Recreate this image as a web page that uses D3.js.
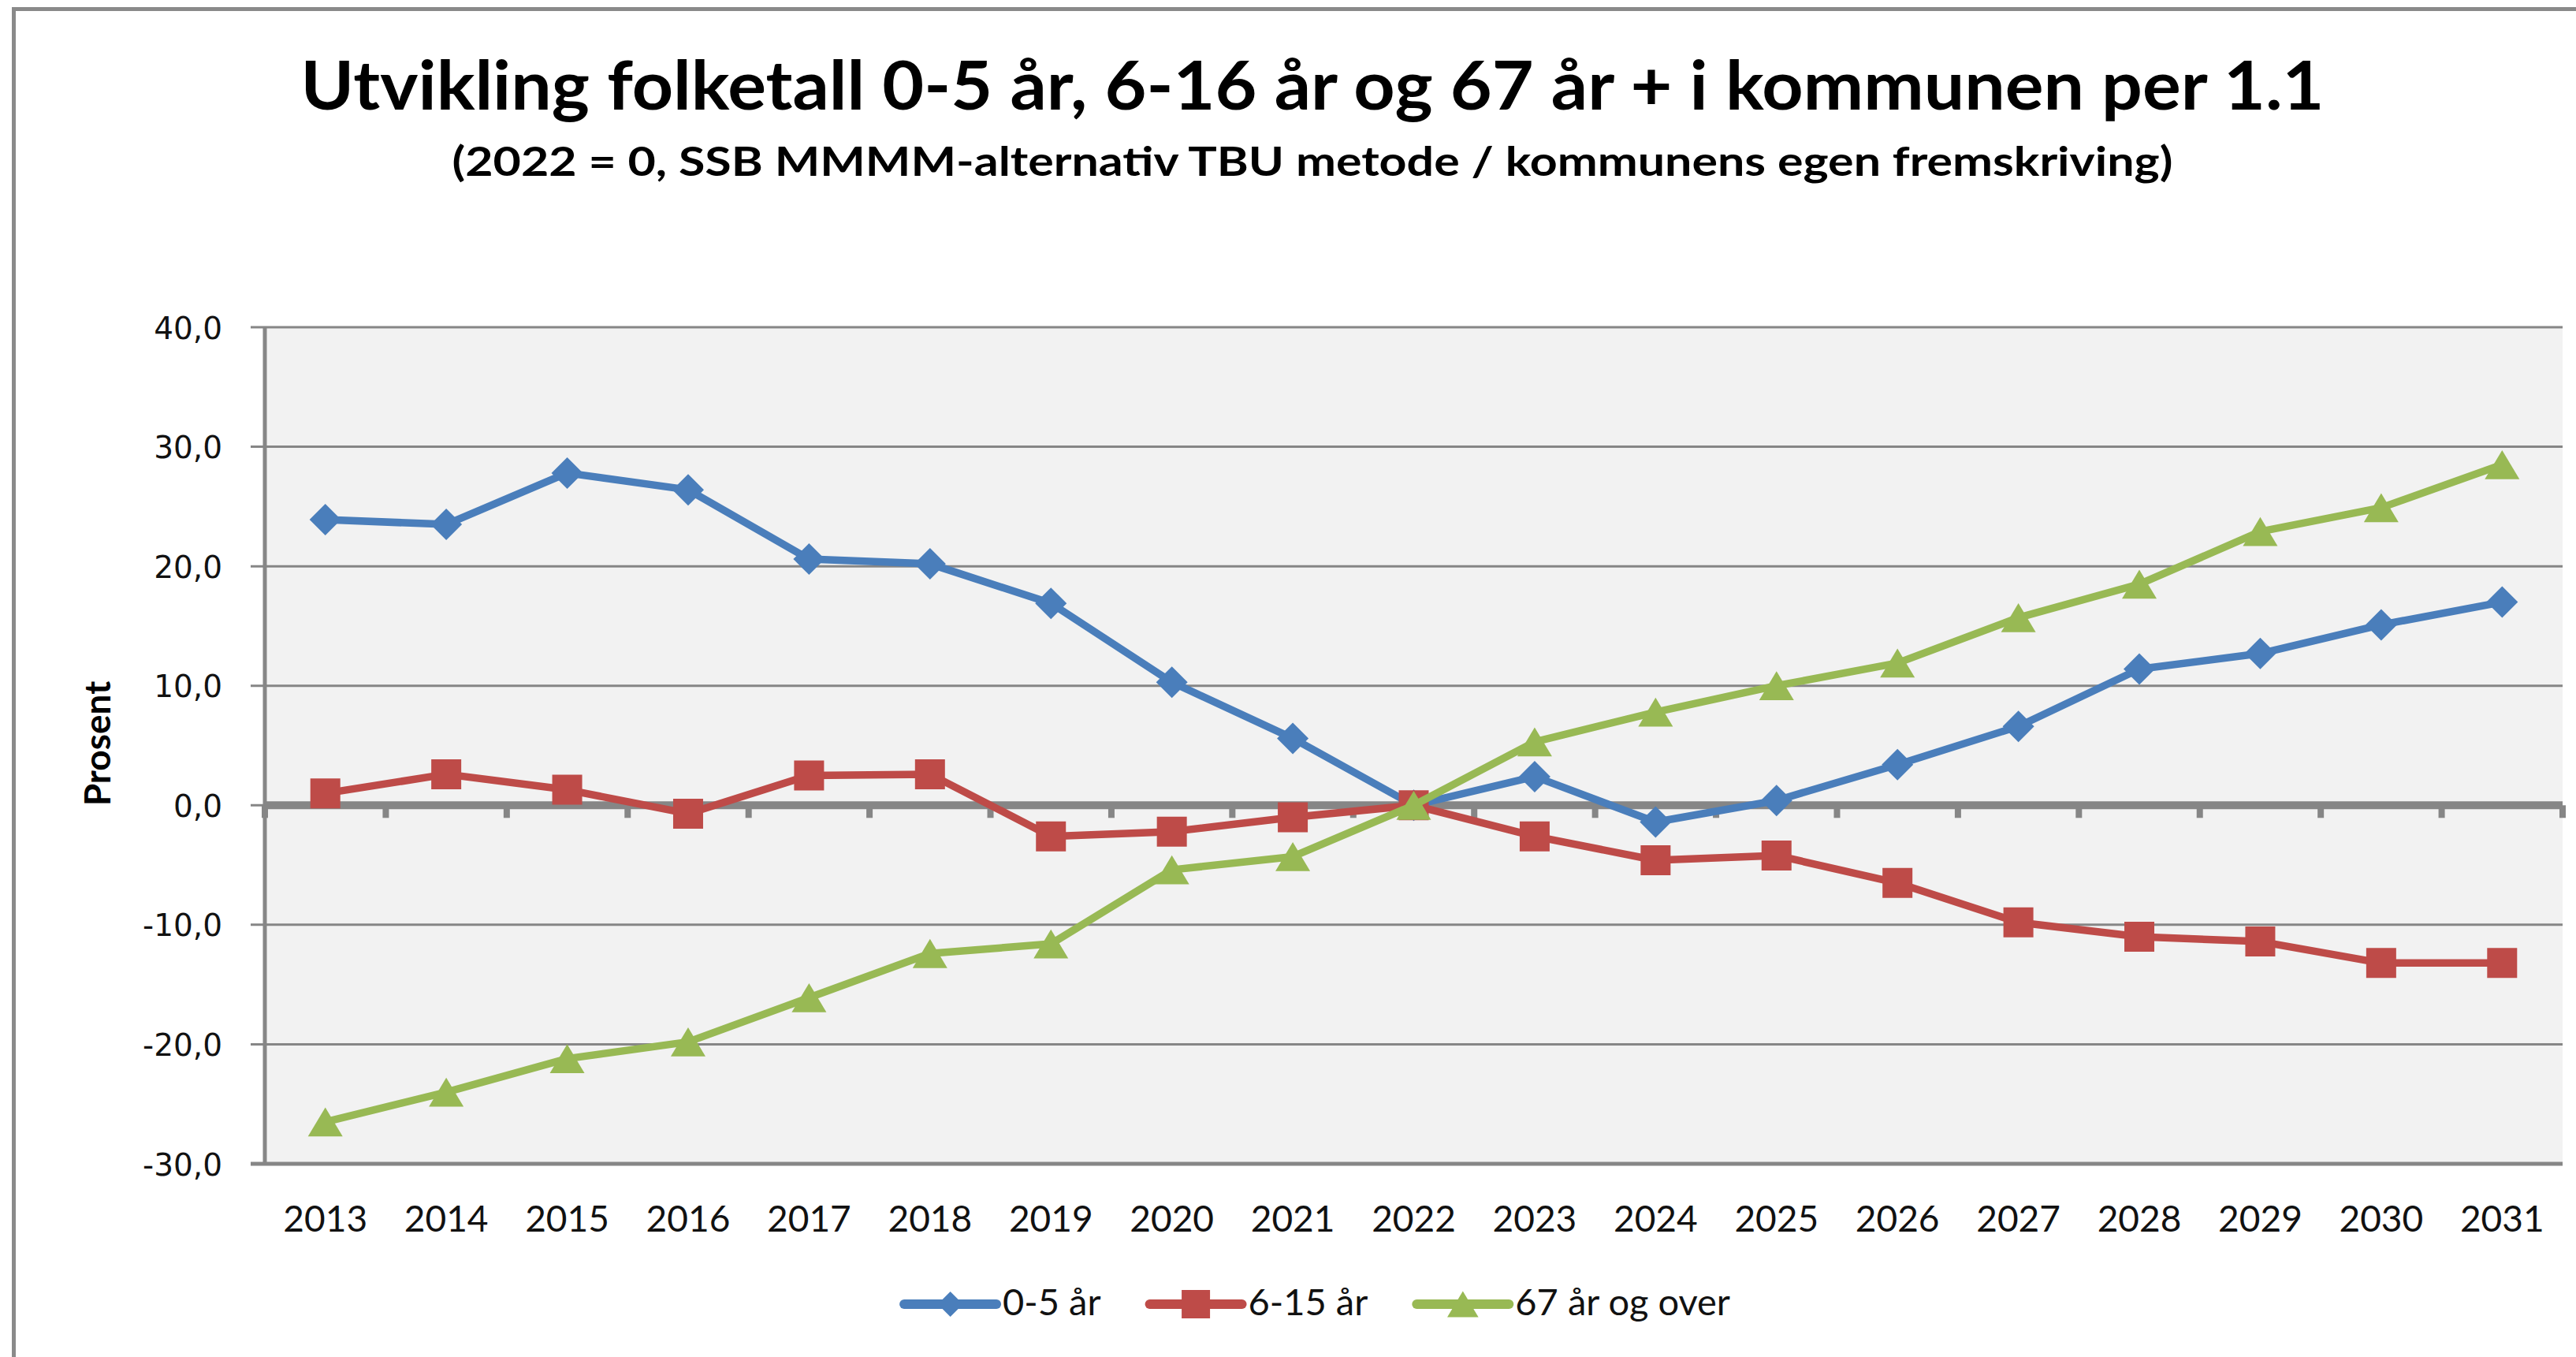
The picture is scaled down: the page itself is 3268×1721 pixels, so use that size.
<!DOCTYPE html>
<html>
<head>
<meta charset="utf-8">
<script src="https://cdn.jsdelivr.net/npm/d3@7/dist/d3.min.js"></script>
<style>
  html, body { margin: 0; padding: 0; background: #ffffff; }
  svg { display: block; }
</style>
</head>
<body>
<svg id="chart" width="3268" height="1721"></svg>
<script>
// ---------------- data ----------------
const years = [2013, 2014, 2015, 2016, 2017, 2018, 2019, 2020, 2021, 2022,
               2023, 2024, 2025, 2026, 2027, 2028, 2029, 2030, 2031];
const yTicks = [40, 30, 20, 10, 0, -10, -20, -30];
const seriesNames = ["0-5 år", "6-15 år", "67 år og over"];
const age0to5   = [23.9, 23.5, 27.8, 26.4, 20.6, 20.2, 16.9, 10.3, 5.6, 0.0,
                   2.4, -1.4, 0.4, 3.4, 6.6, 11.4, 12.7, 15.1, 17.0];
const age6to15  = [1.0, 2.6, 1.3, -0.7, 2.5, 2.6, -2.6, -2.2, -1.0, 0.0,
                   -2.6, -4.6, -4.2, -6.5, -9.8, -11.0, -11.4, -13.2, -13.2];
const age67plus = [-26.5, -24.0, -21.2, -19.8, -16.1, -12.4, -11.6, -5.4, -4.3, 0.0,
                   5.3, 7.8, 10.0, 11.9, 15.7, 18.5, 22.9, 24.9, 28.5];
const titleText = "Utvikling folketall 0-5 år, 6-16 år og 67 år + i kommunen per 1.1";
const subtitleText = "(2022 = 0, SSB MMMM-alternativ TBU metode / kommunens egen fremskriving)";
const yAxisTitle = "Prosent";

// ---------------- setup ----------------
const svg = d3.select("#chart");
const plot = { left: 336, right: 3251, top: 415, bottom: 1476 };
const gridColor = "#868686";
const colors = ["#4a7ebb", "#be4b48", "#98b954"];
const markerTypes = ["diamond", "square", "triangle"];
const seriesValues = [age0to5, age6to15, age67plus];

const x = d3.scaleBand().domain(years).range([plot.left, plot.right]).padding(0);
const y = d3.scaleLinear().domain([-30, 40]).range([plot.bottom, plot.top]);
const bw = x.bandwidth();
const locale = d3.formatLocale({ decimal: ",", thousands: " ", grouping: [3], currency: ["", ""], minus: "-" });
const fmt = locale.format(".1f");

// chart border (top + left visible)
svg.append("line").attr("x1", 15).attr("x2", 3268).attr("y1", 11.5).attr("y2", 11.5)
  .attr("stroke", "#8a8a8a").attr("stroke-width", 5);
svg.append("line").attr("x1", 17.5).attr("x2", 17.5).attr("y1", 9).attr("y2", 1721)
  .attr("stroke", "#8a8a8a").attr("stroke-width", 5);

// title
svg.append("text").attr("x", 1665).attr("y", 139)
  .attr("text-anchor", "middle")
  .attr("font-family", "Lato, 'Open Sans', sans-serif")
  .attr("font-weight", 700).attr("font-size", 86)
  .attr("textLength", 2567).attr("lengthAdjust", "spacingAndGlyphs")
  .attr("fill", "#000").text(titleText);
svg.append("text").attr("x", 1665).attr("y", 223)
  .attr("text-anchor", "middle")
  .attr("font-family", "Lato, 'Open Sans', sans-serif")
  .attr("font-weight", 700).attr("font-size", 51)
  .attr("textLength", 2183).attr("lengthAdjust", "spacingAndGlyphs")
  .attr("fill", "#000").text(subtitleText);

// plot background
svg.append("rect").attr("x", plot.left).attr("y", plot.top)
  .attr("width", plot.right - plot.left).attr("height", plot.bottom - plot.top)
  .attr("fill", "#f2f2f2");

// gridlines (with left tick stubs)
svg.append("g").selectAll("line").data(yTicks).join("line")
  .attr("x1", plot.left - 18).attr("x2", plot.right)
  .attr("y1", d => y(d)).attr("y2", d => y(d))
  .attr("stroke", gridColor).attr("stroke-width", d => d === -30 ? 5 : 3);

// y tick labels via axis
const gyl = svg.append("g").attr("transform", `translate(${plot.left - 54},0)`)
  .call(d3.axisLeft(y).tickValues(yTicks).tickFormat(fmt).tickSize(0).tickPadding(0));
gyl.select(".domain").remove();
gyl.selectAll("text")
  .attr("font-family", "'DejaVu Sans', Verdana, sans-serif")
  .attr("font-size", 39).attr("fill", "#111").attr("dy", "0.36em");

// y axis line
svg.append("line").attr("x1", plot.left).attr("x2", plot.left)
  .attr("y1", plot.top).attr("y2", plot.bottom)
  .attr("stroke", gridColor).attr("stroke-width", 5);

// zero (category) axis with ticks at band boundaries
const boundaries = years.map(d => x(d)).concat([x(years[years.length - 1]) + bw]);
svg.append("g").selectAll("line").data(boundaries).join("line")
  .attr("x1", d => d).attr("x2", d => d)
  .attr("y1", y(0)).attr("y2", y(0) + 16)
  .attr("stroke", gridColor).attr("stroke-width", 8);
svg.append("line").attr("x1", plot.left).attr("x2", plot.right)
  .attr("y1", y(0)).attr("y2", y(0))
  .attr("stroke", gridColor).attr("stroke-width", 10);

// x labels
const gx = svg.append("g").attr("transform", `translate(0,${plot.bottom})`)
  .call(d3.axisBottom(x).tickSize(0).tickPadding(0));
gx.select(".domain").remove();
gx.selectAll("text")
  .attr("font-family", "Lato, 'Open Sans', sans-serif")
  .attr("font-size", 46).attr("fill", "#111")
  .attr("y", 86).attr("dy", 0);

// marker shapes
function markerPath(type, s) {
  if (type === "diamond") {
    const h = s / 2;
    return `M0,${-h}L${h},0L0,${h}L${-h},0Z`;
  }
  if (type === "square") {
    const h = s / 2;
    return `M${-h},${-h}H${h}V${h}H${-h}Z`;
  }
  const w = s * 0.55, hh = s * 0.46;
  return `M0,${-hh}L${w},${hh}L${-w},${hh}Z`;
}
const markerSizes = [40, 38, 40];

// series
const line = d3.line().x((d, i) => x(years[i]) + bw / 2).y(d => y(d));
seriesValues.forEach((vals, si) => {
  const g = svg.append("g");
  g.append("path").datum(vals).attr("d", line)
    .attr("fill", "none").attr("stroke", colors[si]).attr("stroke-width", 9.5)
    .attr("stroke-linejoin", "round").attr("stroke-linecap", "round");
  g.selectAll("path.m").data(vals).join("path").attr("class", "m")
    .attr("transform", (d, i) => `translate(${x(years[i]) + bw / 2},${y(d)})`)
    .attr("d", markerPath(markerTypes[si], markerSizes[si]))
    .attr("fill", colors[si]);
});

// y axis title
svg.append("text").attr("transform", "translate(140,943) rotate(-90)")
  .attr("text-anchor", "middle")
  .attr("font-family", "Lato, 'Open Sans', sans-serif")
  .attr("font-weight", 700).attr("font-size", 46).attr("fill", "#000")
  .text(yAxisTitle);

// legend
const legend = svg.append("g");
const legLine = 117, legTextGap = 8, legItemGap = 62, legY = 1654;
let cx = 0;
const items = seriesNames.map((name, i) => {
  const g = legend.append("g");
  g.append("line").attr("x1", 0).attr("x2", legLine).attr("y1", 0).attr("y2", 0)
    .attr("stroke", colors[i]).attr("stroke-width", 12).attr("stroke-linecap", "round");
  g.append("path").attr("transform", `translate(${legLine / 2},0)`)
    .attr("d", markerPath(markerTypes[i], i === 0 ? 32 : 36)).attr("fill", colors[i]);
  const t = g.append("text").attr("x", legLine + legTextGap).attr("y", 14)
    .attr("font-family", "Lato, 'Open Sans', sans-serif")
    .attr("font-size", 47).attr("fill", "#111").text(name);
  const w = legLine + legTextGap + t.node().getComputedTextLength();
  const pos = cx;
  cx += w + legItemGap;
  return { g, pos };
});
const total = cx - legItemGap;
const startX = 1671 - total / 2;
items.forEach(it => it.g.attr("transform", `translate(${startX + it.pos},${legY})`));
</script>
</body>
</html>
